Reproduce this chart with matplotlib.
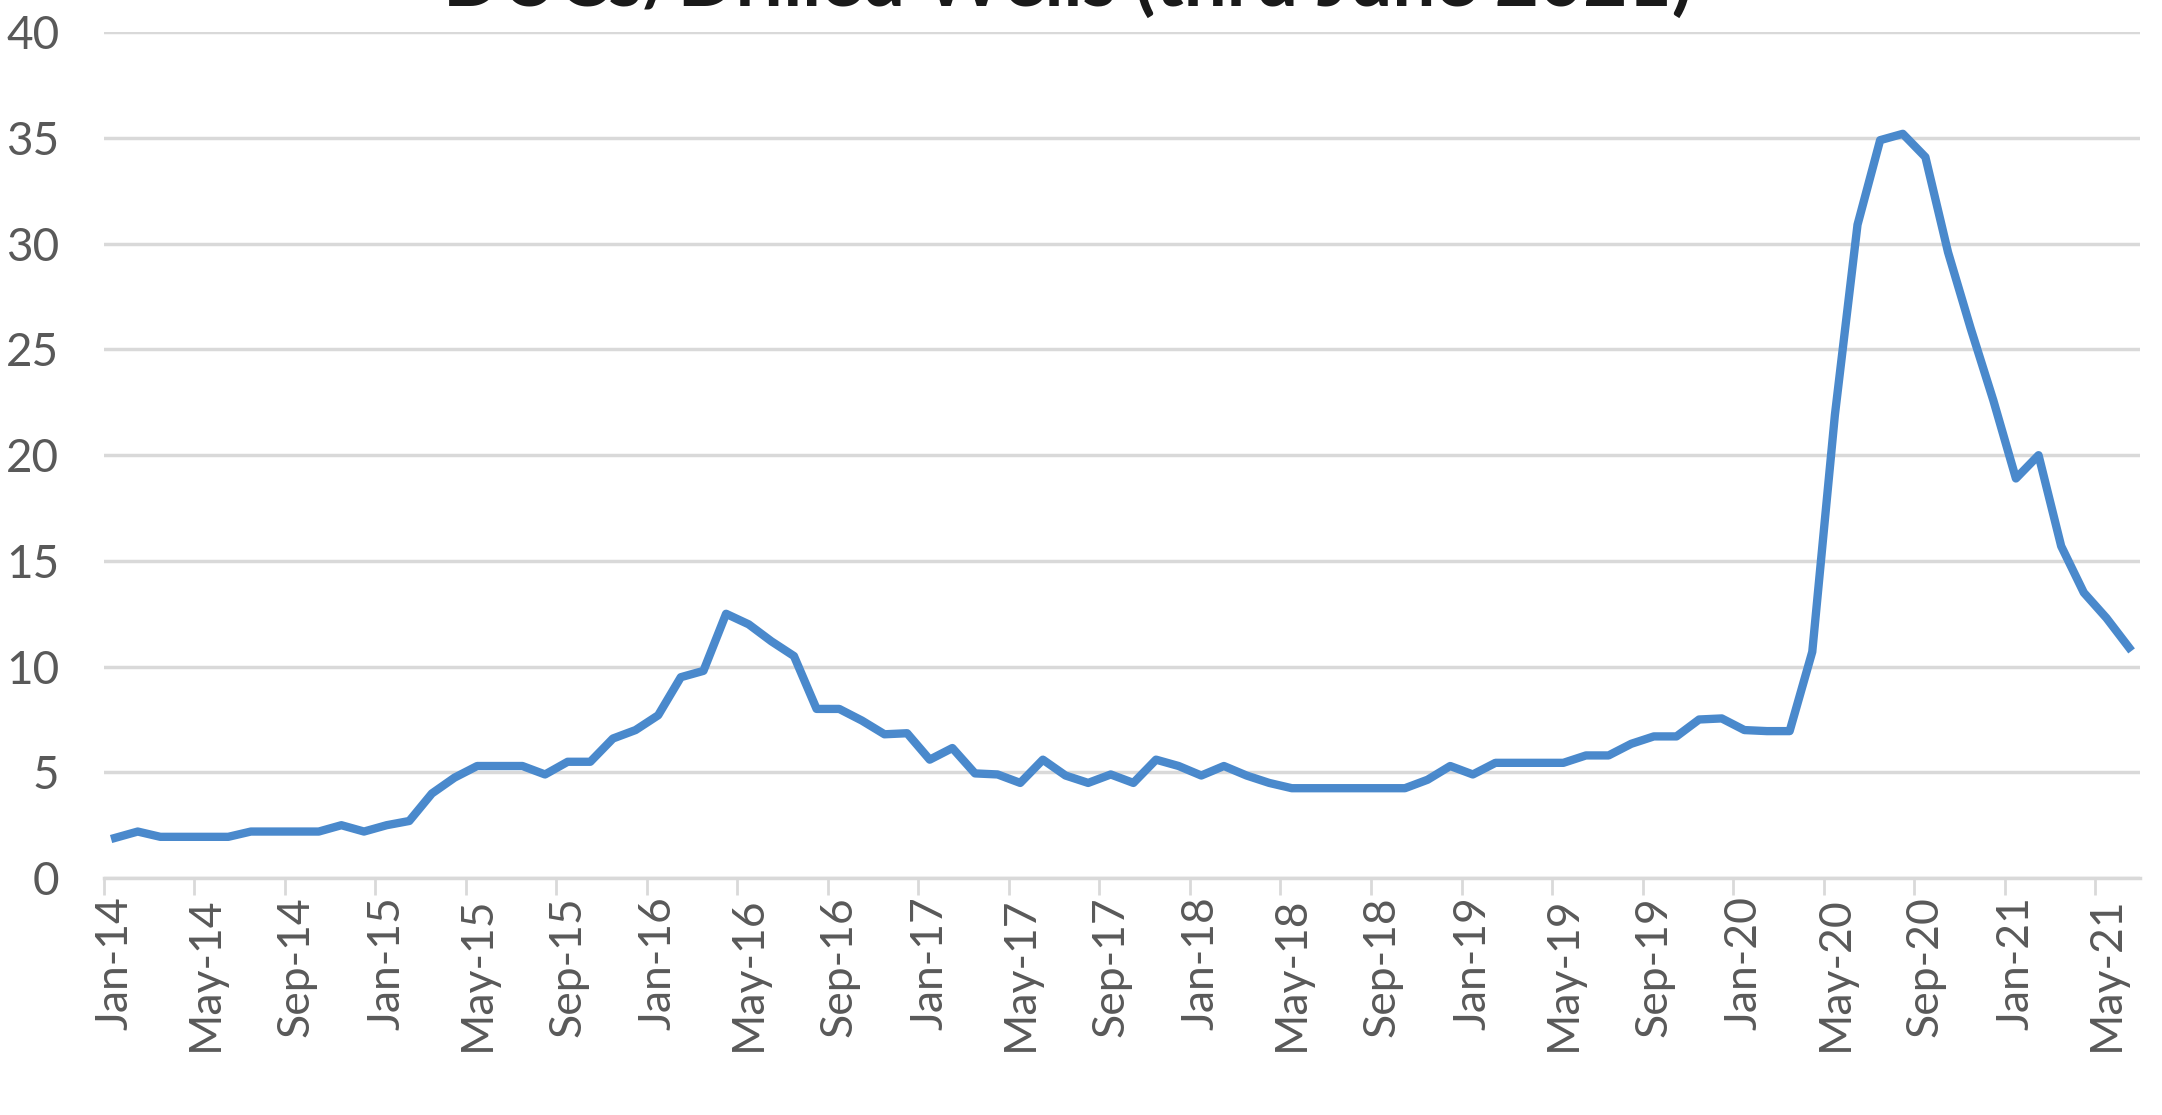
import numpy as np
import matplotlib.pyplot as plt

# monthly DUCs / drilled wells ratio, Jan-14 .. Jun-21
years = [14, 15, 16, 17, 18, 19, 20, 21]
month_names = ['Jan', 'Feb', 'Mar', 'Apr', 'May', 'Jun',
               'Jul', 'Aug', 'Sep', 'Oct', 'Nov', 'Dec']
months = [f'{m}-{y}' for y in years for m in month_names][:90]

ratio = [1.9, 2.2, 1.95, 1.95, 1.95, 1.95, 2.2, 2.2, 2.2, 2.2, 2.5, 2.2,
         2.5, 2.7, 4.0, 4.75, 5.3, 5.3, 5.3, 4.9, 5.5, 5.5, 6.6, 7.0,
         7.7, 9.5, 9.8, 12.5, 12.0, 11.2, 10.5, 8.0, 8.0, 7.45, 6.8, 6.85,
         5.6, 6.15, 4.95, 4.9, 4.5, 5.6, 4.85, 4.5, 4.9, 4.5, 5.6, 5.3,
         4.85, 5.3, 4.85, 4.5, 4.25, 4.25, 4.25, 4.25, 4.25, 4.25, 4.65, 5.3,
         4.9, 5.45, 5.45, 5.45, 5.45, 5.8, 5.8, 6.35, 6.7, 6.7, 7.5, 7.55,
         7.0, 6.95, 6.95, 10.7, 21.9, 30.9, 34.9, 35.2, 34.1, 29.6, 26.0, 22.6,
         18.9, 20.0, 15.7, 13.5, 12.3, 10.9]

title = 'DUCs/Drilled Wells (thru June 2021)'

plt.rcParams['font.family'] = ['Lato', 'DejaVu Sans']

fig = plt.figure(figsize=(21.62, 11.15), dpi=100)
ax = fig.add_axes([0.048, 0.2125, 0.942, 0.7585])

x = np.arange(len(ratio))
ax.plot(x, ratio, color='#4A89CC', lw=6, solid_joinstyle='round', zorder=3)

ax.set_ylim(0, 40)
ax.set_xlim(-0.5, len(ratio) - 0.5)
ax.set_yticks(np.arange(0, 41, 5))
ax.yaxis.grid(True, color='#d9d9d9', lw=2.5)
ax.set_axisbelow(True)
ax.tick_params(axis='y', length=0, pad=32, labelsize=33, labelcolor='#595959')

ax.set_xticks(x[::4])
ax.set_xticklabels(months[::4], rotation=90)
ax.set_xticks(np.arange(-0.5, len(ratio) - 1, 4), minor=True)
ax.tick_params(axis='x', which='major', length=0, pad=13, labelsize=32,
               labelcolor='#595959')
ax.tick_params(axis='x', which='minor', length=12, width=2, color='#d9d9d9')

for s in ['top', 'right', 'left']:
    ax.spines[s].set_visible(False)
ax.spines['bottom'].set_color('#d9d9d9')
ax.spines['bottom'].set_linewidth(2.5)

fig.text(0.494, 1 - 6 / 1115, title, ha='center', va='baseline',
         fontsize=55, fontweight='bold', color='#1a1a1a')

fig.savefig('out.png', dpi=100)
